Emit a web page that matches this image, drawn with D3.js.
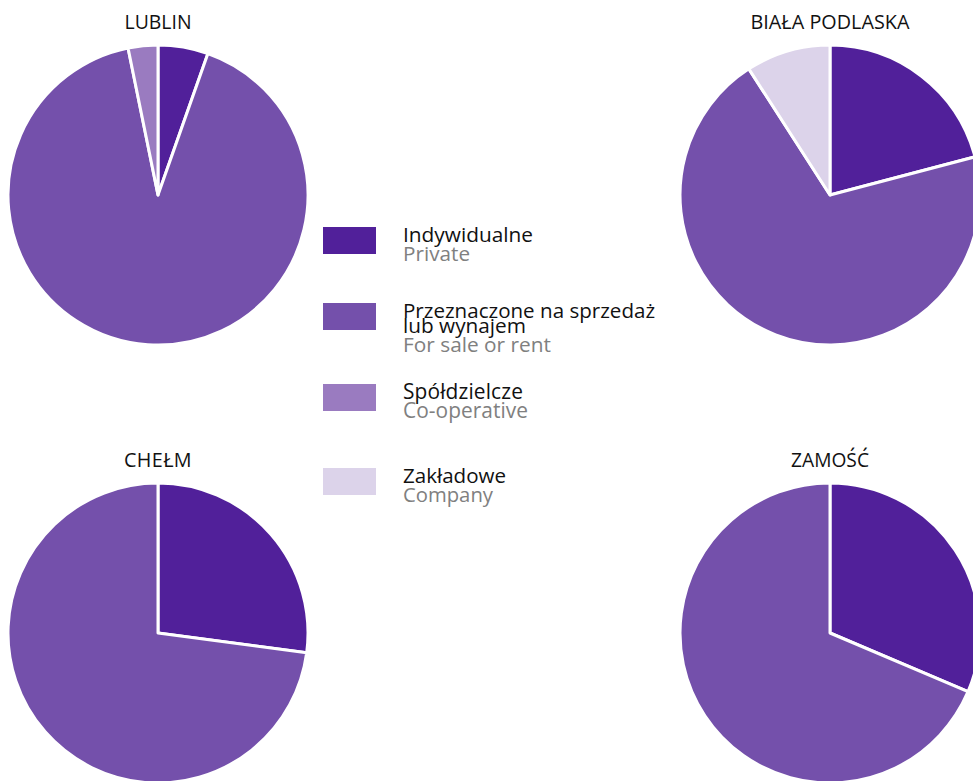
<!DOCTYPE html>
<html><head><meta charset="utf-8">
<script src="https://cdn.jsdelivr.net/npm/d3@7"></script>
<style>
html,body{margin:0;padding:0;background:#fff;overflow:hidden;}
svg{display:block;font-family:"Open Sans","Noto Sans",sans-serif;}
</style></head><body>
<svg id="c" width="973" height="781"></svg>
<script>
const categoriesPL = ["Indywidualne", "Przeznaczone na sprzedaż\nlub wynajem", "Spółdzielcze", "Zakładowe"];
const categoriesEN = ["Private", "For sale or rent", "Co-operative", "Company"];
const colors = ["#51209a", "#7450ab", "#9a7bc0", "#dcd3ea"];
const cities = ["LUBLIN", "BIAŁA PODLASKA", "CHEŁM", "ZAMOŚĆ"];
const lublin = [5.4, 91.4, 3.2, 0];
const bialaPodlaska = [20.9, 70.0, 0, 9.1];
const chelm = [27.1, 72.9, 0, 0];
const zamosc = [31.4, 68.6, 0, 0];
const seriesValues = [lublin, bialaPodlaska, chelm, zamosc];

const svg = d3.select("#c");
const R = 150;
const cx = d3.scalePoint().domain([0,1]).range([158, 830]);
const cy = d3.scalePoint().domain([0,1]).range([195, 633]);
const pie = d3.pie().sort(null).value(d => d);
const arc = d3.arc().innerRadius(0).outerRadius(R);

// fit text to target width: grow font-size a bit, rest with letter-spacing
function fit(sel, target, base) {
  const w = sel.node().getComputedTextLength();
  let fs = Math.min(base * 1.1, base * target / w);
  sel.attr("font-size", fs.toFixed(2));
  const w2 = sel.node().getComputedTextLength();
  const n = sel.text().length;
  if (n > 1) sel.attr("letter-spacing", Math.max(0, (target - w2) / n).toFixed(2));
}

const titleWidths = [67, 159, 68, 78];
cities.forEach((name, i) => {
  const col = i % 2, row = Math.floor(i / 2);
  const g = svg.append("g").attr("transform", `translate(${cx(col)},${cy(row)})`);
  g.selectAll("path").data(pie(seriesValues[i]).filter(d => d.value > 0)).join("path")
    .attr("d", arc).attr("fill", d => colors[d.index])
    .attr("stroke", "#fff").attr("stroke-width", 3).attr("stroke-linejoin", "round");
  const t = g.append("text").attr("x", 0).attr("y", -R - 16).attr("text-anchor", "middle")
    .attr("font-size", 18).attr("fill", "#111").text(name);
  fit(t, titleWidths[i], 18);
});

const leg = svg.append("g");
const legY = [227, 303, 384, 468];
const lx = 323;
const plWidths = [[130], [252, 123], [120], [103]];
const enWidths = [67, 148, 125, 90];
categoriesPL.forEach((c, i) => {
  leg.append("rect").attr("x", lx).attr("y", legY[i]).attr("width", 53).attr("height", 27).attr("fill", colors[i]);
  const lines = c.split("\n");
  lines.forEach((l, j) => {
    const t = leg.append("text").attr("x", 403).attr("y", legY[i] + 15 + j * 15)
      .attr("font-size", 19).attr("fill", "#111").text(l);
    fit(t, plWidths[i][j], 19);
  });
  const e = leg.append("text").attr("x", 403).attr("y", legY[i] + 15 + (lines.length - 1) * 15 + 19)
    .attr("font-size", 19).attr("fill", "#808080").text(categoriesEN[i]);
  fit(e, enWidths[i], 19);
});
</script>
</body></html>
